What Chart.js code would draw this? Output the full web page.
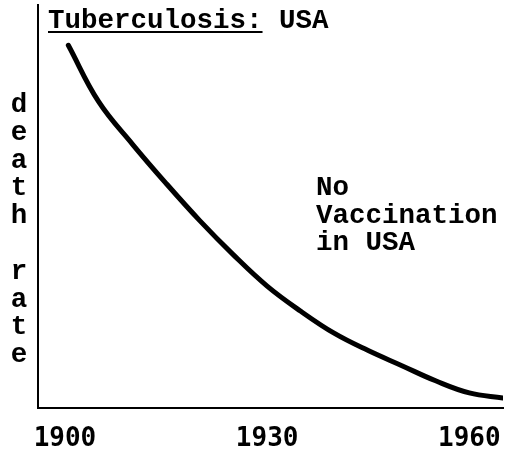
<!DOCTYPE html>
<html>
<head>
<meta charset="utf-8">
<script src="https://cdn.jsdelivr.net/npm/chart.js@4"></script>
<style>
  body { margin: 0; background: #fff; }
  #wrap { width: 506px; height: 455px; }
</style>
</head>
<body>
<div id="wrap"><canvas id="tb_chart" width="506" height="455"></canvas></div>
<script>
// values (death rate, arbitrary units)
var years = [1900.5, 1905, 1910, 1915, 1920, 1925, 1930, 1935, 1940, 1945, 1950, 1955, 1960, 1965];
var deathRate = [180, 152, 131, 111.5, 93, 76, 60.5, 48, 37, 28.5, 21, 13.5, 7.5, 5];
var tickYears = [1900, 1930, 1960];
var yLabel = ['d', 'e', 'a', 't', 'h', '', 'r', 'a', 't', 'e'];
var note = ['No', 'Vaccination', 'in USA'];

var mono = '"Courier New", "Liberation Mono", monospace';

var points = years.map(function (y, i) {
    return { x: y, y: deathRate[i] };
});

// title, side label and the note are drawn straight on the canvas
var textPlugin = {
    id: 'textPlugin',
    afterDraw: function (chart) {
        var ctx = chart.ctx;
        ctx.save();
        ctx.fillStyle = '#000';
        ctx.strokeStyle = '#000';
        ctx.font = 'bold 27.5px ' + mono;
        ctx.textBaseline = 'alphabetic';
        ctx.textAlign = 'left';

        var t1 = 'Tuberculosis:';
        ctx.fillText(t1, 48, 28);
        var w = ctx.measureText(t1).width;
        ctx.lineWidth = 2;
        ctx.beginPath();
        ctx.moveTo(48, 32);
        ctx.lineTo(48 + w, 32);
        ctx.stroke();
        ctx.fillText(' USA', 48 + w, 28);

        note.forEach(function (line, i) {
            ctx.fillText(line, 316, 195 + i * 27.5);
        });

        ctx.textAlign = 'center';
        ctx.textBaseline = 'middle';
        yLabel.forEach(function (ch, i) {
            ctx.fillText(ch, 19, 105 + i * 27.8);
        });
        ctx.restore();
    }
};

new Chart(document.getElementById('tb_chart').getContext('2d'), {
    type: 'line',
    data: {
        datasets: [{
            data: points,
            borderColor: '#000',
            borderWidth: 5,
            borderCapStyle: 'round',
            pointRadius: 0,
            tension: 0.4,
            fill: false
        }]
    },
    options: {
        responsive: false,
        animation: false,
        layout: { padding: { left: 38, top: 5, right: 3, bottom: 3 } },
        plugins: { legend: { display: false }, tooltip: { enabled: false } },
        scales: {
            x: {
                type: 'linear',
                min: 1896,
                max: 1965,
                afterBuildTicks: function (axis) {
                    axis.ticks = tickYears.map(function (v) { return { value: v }; });
                },
                afterFit: function (axis) {
                    axis.paddingLeft = 0;
                    axis.paddingRight = 0;
                    axis.height = 44;
                },
                grid: { display: false, drawTicks: false },
                border: { display: true, color: '#000', width: 2 },
                ticks: {
                    color: '#000',
                    padding: 16,
                    maxRotation: 0,
                    autoSkip: false,
                    font: { family: '"DejaVu Sans Mono", monospace', size: 26, weight: 'bold' },
                    callback: function (v) { return String(v); }
                }
            },
            y: {
                min: 0,
                max: 200,
                grid: { display: false, drawTicks: false },
                border: { display: true, color: '#000', width: 2 },
                ticks: { display: false }
            }
        }
    },
    plugins: [textPlugin]
});
</script>
</body>
</html>
